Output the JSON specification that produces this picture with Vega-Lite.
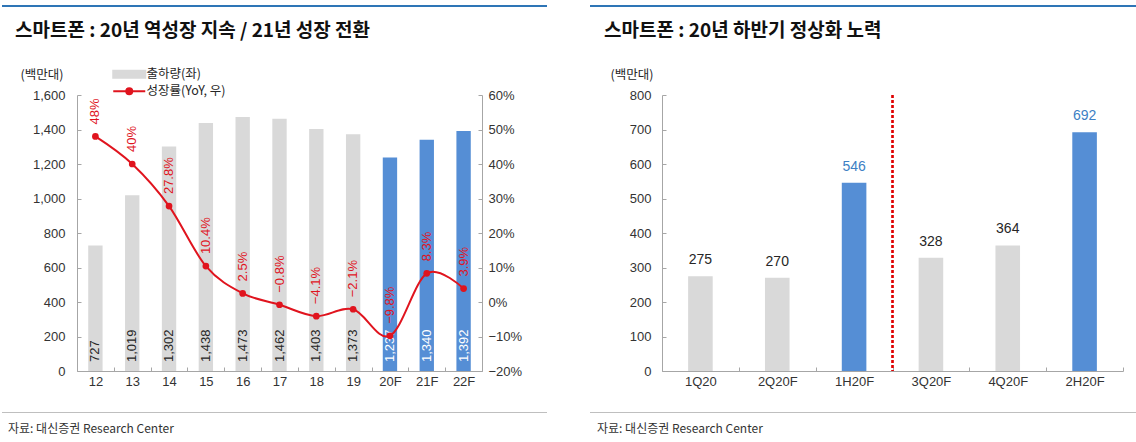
{
  "$schema": "https://vega.github.io/schema/vega-lite/v6.json",
  "padding": {"left": 2, "top": 5, "right": 0, "bottom": 0},
  "background": "white",
  "config": {
    "font": "Liberation Sans, Noto Sans CJK KR",
    "view": {"stroke": null},
    "axis": {
      "domainColor": "#a6a6a6",
      "tickColor": "#a6a6a6",
      "labelColor": "#333333",
      "labelFontSize": 13,
      "labelFont": "Liberation Sans, Noto Sans CJK KR",
      "labelOverlap": false,
      "grid": false
    },
    "title": {"font": "Noto Sans CJK KR"}
  },
  "spacing": 43,
  "resolve": {"scale": {"color": "independent"}, "legend": {"color": "independent"}},
  "hconcat": [
    {
      "spacing": 15,
      "resolve": {"scale": {"color": "independent"}, "legend": {"color": "independent"}},
      "vconcat": [
        {
          "width": 545, "height": 2,
          "view": {"fill": "#2e75b6", "stroke": null},
          "data": {"values": [{}]},
          "mark": {"type": "text", "fontSize": 0},
          "encoding": {}
        },
        {
          "spacing": 24,
          "resolve": {"scale": {"color": "independent"}, "legend": {"color": "independent"}},
          "vconcat": [
            {
              "spacing": 0,
              "resolve": {"scale": {"color": "independent"}, "legend": {"color": "independent"}},
              "hconcat": [
                {
                  "width": 1, "height": 1,
                  "data": {"values": [{}]},
                  "mark": {"type": "text", "fontSize": 0},
                  "encoding": {}
                },
                {
                  "width": 405, "height": 276,
                  "title": {"text": "스마트폰 : 20년 역성장 지속 / 21년 성장 전환", "anchor": "start", "frame": "bounds", "dx": 12, "fontSize": 19, "fontWeight": "bold", "color": "#111111", "offset": 27},
                  "data": {"values": [
                    {"year": "12", "ship": 727, "yoy": 0.48, "label": "48%", "forecast": false, "series": "출하량(좌)"},
                    {"year": "13", "ship": 1019, "yoy": 0.40, "label": "40%", "forecast": false, "series": "출하량(좌)"},
                    {"year": "14", "ship": 1302, "yoy": 0.278, "label": "27.8%", "forecast": false, "series": "출하량(좌)"},
                    {"year": "15", "ship": 1438, "yoy": 0.104, "label": "10.4%", "forecast": false, "series": "출하량(좌)"},
                    {"year": "16", "ship": 1473, "yoy": 0.025, "label": "2.5%", "forecast": false, "series": "출하량(좌)"},
                    {"year": "17", "ship": 1462, "yoy": -0.008, "label": "−0.8%", "forecast": false, "series": "출하량(좌)"},
                    {"year": "18", "ship": 1403, "yoy": -0.041, "label": "−4.1%", "forecast": false, "series": "출하량(좌)"},
                    {"year": "19", "ship": 1373, "yoy": -0.021, "label": "−2.1%", "forecast": false, "series": "출하량(좌)"},
                    {"year": "20F", "ship": 1237, "yoy": -0.098, "label": "−9.8%", "forecast": true, "series": "출하량(전망)"},
                    {"year": "21F", "ship": 1340, "yoy": 0.083, "label": "8.3%", "forecast": true, "series": "출하량(전망)"},
                    {"year": "22F", "ship": 1392, "yoy": 0.039, "label": "3.9%", "forecast": true, "series": "출하량(전망)"}
                  ]},
                  "encoding": {
                    "x": {"field": "year", "type": "ordinal", "sort": null,
                          "scale": {"paddingInner": 0, "paddingOuter": 0},
                          "axis": {"title": null, "labelAngle": 0, "tickBand": "extent", "tickSize": -4, "labelPadding": 8}}
                  },
                  "layer": [
                    {
                      "layer": [
                        {
                          "mark": {"type": "bar", "width": {"band": 0.39}},
                          "encoding": {
                            "y": {"field": "ship", "type": "quantitative",
                                  "scale": {"domain": [0, 1600]},
                                  "axis": {"orient": "left", "values": [0, 200, 400, 600, 800, 1000, 1200, 1400, 1600], "format": ",.0f", "labelOverlap": false,
                                           "title": "(백만대)", "titleAngle": 0, "titleAlign": "left", "titleBaseline": "middle",
                                           "titleX": -57, "titleY": -21, "titleFontSize": 12.5, "titleFontWeight": "normal",
                                           "titleColor": "#262626", "titleFont": "Noto Sans CJK KR",
                                           "tickSize": -4, "labelPadding": 16, "minExtent": 74, "maxExtent": 74}},
                            "color": {"field": "series", "type": "nominal",
                                      "scale": {"domain": ["출하량(좌)", "출하량(전망)", "성장률(YoY, 우)"], "range": ["#d9d9d9", "#558ed5", "#e0141e"]},
                                      "legend": {
                                        "orient": "none", "legendX": 46, "legendY": -27, "title": null, "padding": 0,
                                        "values": ["출하량(좌)", "성장률(YoY, 우)"],
                                        "labelFontSize": 12.5, "labelFont": "Noto Sans CJK KR", "labelColor": "#262626",
                                        "labelOffset": 11, "rowPadding": 2, "symbolSize": 64,
                                        "encode": {"symbols": {"update": {
                                          "shape": {"signal": "datum.value === '출하량(좌)' ? 'M-4,-0.9H4V0.9H-4Z' : 'M-4,0H4M0.75,0A0.75,0.75 0 1,1 -0.75,0A0.75,0.75 0 1,1 0.75,0'"},
                                          "fill": {"signal": "datum.value === '출하량(좌)' ? '#d9d9d9' : '#e0141e'"},
                                          "stroke": {"signal": "datum.value === '출하량(좌)' ? 'transparent' : '#e0141e'"},
                                          "strokeWidth": {"value": 2},
                                          "size": {"value": 64},
                                          "opacity": {"value": 1}
                                        }}}
                                      }}
                          }
                        },
                        {
                          "mark": {"type": "text", "angle": 270, "align": "left", "baseline": "middle", "dx": 9, "fontSize": 13},
                          "encoding": {
                            "y": {"datum": 0, "type": "quantitative",
                                  "axis": {"orient": "left", "values": [0, 200, 400, 600, 800, 1000, 1200, 1400, 1600], "format": ",.0f", "labelOverlap": false,
                                           "title": "(백만대)", "titleAngle": 0, "titleAlign": "left", "titleBaseline": "middle",
                                           "titleX": -57, "titleY": -21, "titleFontSize": 12.5, "titleFontWeight": "normal",
                                           "titleColor": "#262626", "titleFont": "Noto Sans CJK KR",
                                           "tickSize": -4, "labelPadding": 16, "minExtent": 74, "maxExtent": 74}},
                            "text": {"field": "ship", "type": "quantitative", "format": ",.0f"},
                            "color": {"condition": {"test": "datum.forecast", "value": "#ffffff"}, "value": "#262626"}
                          }
                        }
                      ]
                    },
                    {
                      "layer": [
                        {
                          "mark": {"type": "line", "interpolate": "cardinal", "strokeWidth": 2, "point": {"filled": true, "size": 45}},
                          "encoding": {
                            "y": {"field": "yoy", "type": "quantitative",
                                  "scale": {"domain": [-0.2, 0.6]},
                                  "axis": {"orient": "right", "values": [-0.2, -0.1, 0, 0.1, 0.2, 0.3, 0.4, 0.5, 0.6], "format": ".0%", "labelOverlap": false,
                                           "title": null, "tickSize": -4, "labelPadding": 10}},
                            "color": {"datum": "성장률(YoY, 우)"}
                          }
                        },
                        {
                          "mark": {"type": "text", "angle": 270, "align": "left", "baseline": "middle", "dx": 12, "fontSize": 13, "color": "#e0141e"},
                          "encoding": {
                            "y": {"field": "yoy", "type": "quantitative",
                                  "axis": {"orient": "right", "values": [-0.2, -0.1, 0, 0.1, 0.2, 0.3, 0.4, 0.5, 0.6], "format": ".0%", "labelOverlap": false,
                                           "title": null, "tickSize": -4, "labelPadding": 10}},
                            "text": {"field": "label"}
                          }
                        }
                      ]
                    }
                  ],
                  "resolve": {"scale": {"y": "independent"}}
                }
              ]
            },
            {
              "width": 545, "height": 1,
              "view": {"fill": "#bfbfbf", "stroke": null},
              "data": {"values": [{}]},
              "mark": {"type": "text", "fontSize": 0},
              "encoding": {},
              "title": {"text": "자료: 대신증권 Research Center", "orient": "bottom", "anchor": "start", "frame": "group", "dx": 6, "fontSize": 12, "fontWeight": "normal", "color": "#333333", "offset": 11}
            }
          ]
        }
      ]
    },
    {
      "spacing": 15,
      "vconcat": [
        {
          "width": 546, "height": 2,
          "view": {"fill": "#2e75b6", "stroke": null},
          "data": {"values": [{}]},
          "mark": {"type": "text", "fontSize": 0},
          "encoding": {}
        },
        {
          "spacing": 24,
          "vconcat": [
            {
              "spacing": 0,
              "hconcat": [
                {
                  "width": 1, "height": 1,
                  "data": {"values": [{}]},
                  "mark": {"type": "text", "fontSize": 0},
                  "encoding": {}
                },
                {
                  "width": 461, "height": 276,
                  "title": {"text": "스마트폰 : 20년 하반기 정상화 노력", "anchor": "start", "frame": "bounds", "dx": 13, "fontSize": 19, "fontWeight": "bold", "color": "#111111", "offset": 27},
                  "data": {"values": [
                    {"period": "1Q20", "ship": 275, "half": false},
                    {"period": "2Q20F", "ship": 270, "half": false},
                    {"period": "1H20F", "ship": 546, "half": true},
                    {"period": "3Q20F", "ship": 328, "half": false},
                    {"period": "4Q20F", "ship": 364, "half": false},
                    {"period": "2H20F", "ship": 692, "half": true}
                  ]},
                  "encoding": {
                    "x": {"field": "period", "type": "ordinal", "sort": null,
                          "scale": {"paddingInner": 0, "paddingOuter": 0},
                          "axis": {"title": null, "labelAngle": 0, "tickBand": "extent", "tickSize": -4, "labelPadding": 8}}
                  },
                  "layer": [
                    {
                      "mark": {"type": "bar", "width": {"band": 0.32}},
                      "encoding": {
                        "y": {"field": "ship", "type": "quantitative",
                              "scale": {"domain": [0, 800]},
                              "axis": {"orient": "left", "values": [0, 100, 200, 300, 400, 500, 600, 700, 800], "labelOverlap": false,
                                       "title": "(백만대)", "titleAngle": 0, "titleAlign": "left", "titleBaseline": "middle",
                                       "titleX": -52, "titleY": -21, "titleFontSize": 12.5, "titleFontWeight": "normal",
                                       "titleColor": "#262626", "titleFont": "Noto Sans CJK KR",
                                       "tickSize": -4, "labelPadding": 15, "minExtent": 71, "maxExtent": 71}},
                        "color": {"condition": {"test": "datum.half", "value": "#558ed5"}, "value": "#d9d9d9"}
                      }
                    },
                    {
                      "mark": {"type": "text", "baseline": "bottom", "dy": -9, "fontSize": 14},
                      "encoding": {
                        "y": {"field": "ship", "type": "quantitative",
                              "axis": {"orient": "left", "values": [0, 100, 200, 300, 400, 500, 600, 700, 800], "labelOverlap": false,
                                       "title": "(백만대)", "titleAngle": 0, "titleAlign": "left", "titleBaseline": "middle",
                                       "titleX": -52, "titleY": -21, "titleFontSize": 12.5, "titleFontWeight": "normal",
                                       "titleColor": "#262626", "titleFont": "Noto Sans CJK KR",
                                       "tickSize": -4, "labelPadding": 15, "minExtent": 71, "maxExtent": 71}},
                        "text": {"field": "ship", "type": "quantitative"},
                        "color": {"condition": {"test": "datum.half", "value": "#3d7fc4"}, "value": "#262626"}
                      }
                    },
                    {
                      "mark": {"type": "rule", "color": "#e00000", "strokeDash": [3, 2], "strokeWidth": 1.5},
                      "encoding": {"x": {"datum": "3Q20F", "type": "ordinal", "bandPosition": 0}}
                    }
                  ]
                }
              ]
            },
            {
              "width": 546, "height": 1,
              "view": {"fill": "#bfbfbf", "stroke": null},
              "data": {"values": [{}]},
              "mark": {"type": "text", "fontSize": 0},
              "encoding": {},
              "title": {"text": "자료: 대신증권 Research Center", "orient": "bottom", "anchor": "start", "frame": "group", "dx": 7, "fontSize": 12, "fontWeight": "normal", "color": "#333333", "offset": 11}
            }
          ]
        }
      ]
    }
  ]
}
